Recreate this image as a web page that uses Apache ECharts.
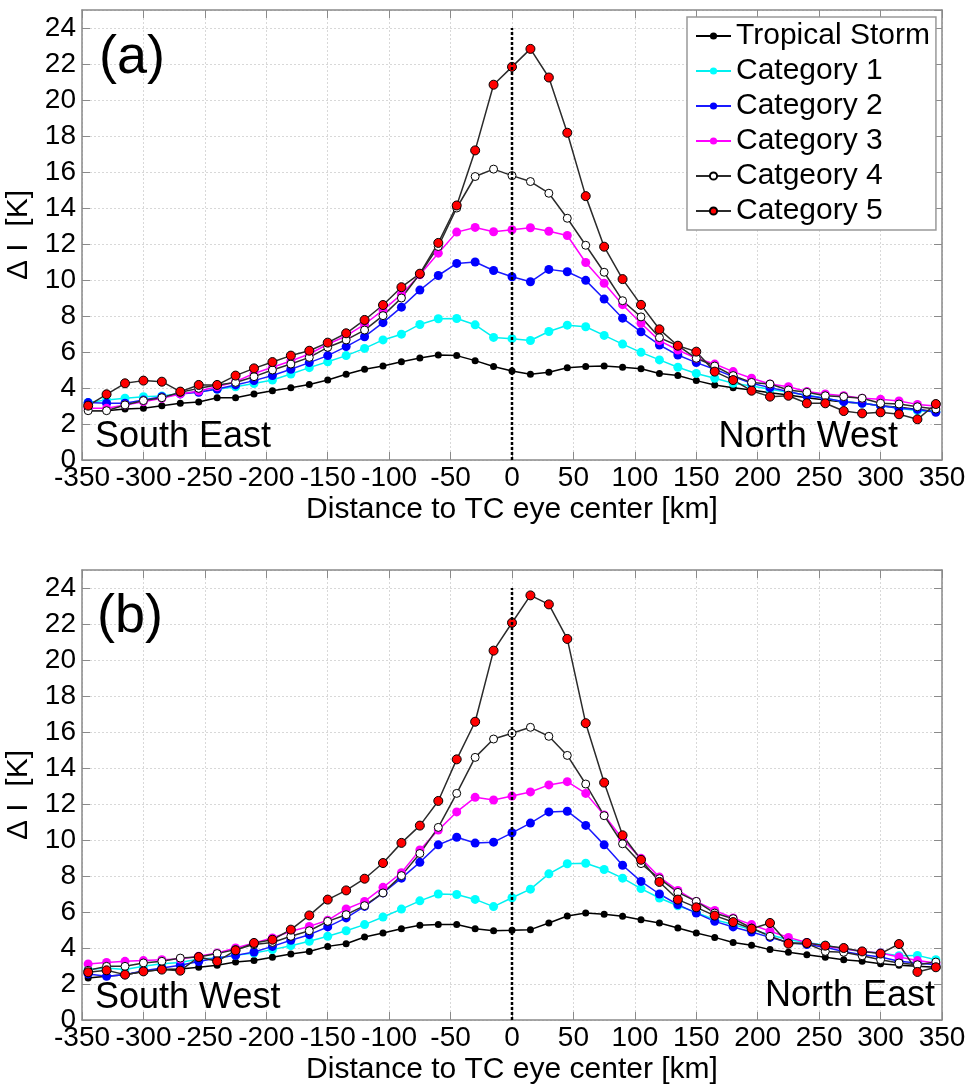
<!DOCTYPE html>
<html>
<head>
<meta charset="utf-8">
<script src="https://cdn.jsdelivr.net/npm/echarts@6/dist/echarts.min.js"></script>
<style>
  html, body { margin: 0; padding: 0; background: #fff; }
  #chart { width: 970px; height: 1086px; }
</style>
</head>
<body>
<div id="chart"></div>
<script>
// Distance to TC eye centre [km], sampled every 15 km
const distance = [];
for (let d = -345; d <= 345; d += 15) distance.push(d);

const seriesNames = ['Tropical Storm', 'Category 1', 'Category 2', 'Category 3', 'Catgeory 4', 'Category 5'];
const xTicks = { min: -350, max: 350, step: 50 };
const yTicks = { min: 0, max: 25, step: 2 };

// Panel (a): South East -> North West transect, ΔI [K]
const aTropicalStorm = [2.74,2.74,2.83,2.87,3.02,3.15,3.22,3.46,3.46,3.67,3.85,4.02,4.2,4.44,4.76,5.04,5.22,5.46,5.67,5.83,5.8,5.52,5.19,4.94,
  4.76,4.87,5.13,5.2,5.22,5.15,5.07,4.81,4.69,4.41,4.17,4.02,3.89,3.74,3.61,3.46,3.33,3.22,3.15,3.02,2.93,2.81,2.69];
const aCat1 = [3.2,3.33,3.43,3.52,3.56,3.7,3.8,3.93,4.07,4.25,4.44,4.78,5.13,5.46,5.8,6.2,6.67,6.99,7.53,7.85,7.86,7.51,6.81,6.74,
  6.64,7.14,7.49,7.4,6.92,6.44,5.98,5.56,5.15,4.81,4.54,4.26,4.11,3.93,3.76,3.61,3.43,3.24,3.15,3.02,2.87,2.74,2.69];
const aCat2 = [3.19,3.15,3.15,3.33,3.52,3.67,3.76,3.94,4.17,4.41,4.69,5.04,5.41,5.8,6.3,6.85,7.63,8.49,9.44,10.25,10.92,11.0,10.53,10.18,
  9.9,10.59,10.46,9.98,8.94,7.88,7.12,6.39,5.83,5.41,5.04,4.63,4.26,4.02,3.8,3.57,3.43,3.24,3.15,3.02,2.87,2.81,2.65];
const aCat3 = [2.87,2.87,3.06,3.24,3.43,3.67,3.83,4.07,4.35,4.81,5.15,5.5,5.89,6.43,6.89,7.54,8.33,9.2,10.29,11.49,12.66,12.92,12.68,12.79,
  12.9,12.71,12.47,10.97,9.82,8.63,7.6,6.63,6.11,5.65,5.33,4.91,4.54,4.22,4.07,3.8,3.67,3.57,3.43,3.37,3.28,3.09,3.0];
const aCat4 = [2.74,2.74,3.06,3.3,3.46,3.76,3.98,4.17,4.31,4.63,5.0,5.33,5.7,6.26,6.67,7.22,8.02,9.0,10.33,11.86,14.0,15.75,16.16,15.8,
  15.47,14.82,13.43,11.93,10.43,8.85,7.95,6.8,6.35,5.65,5.22,4.69,4.31,4.22,3.89,3.76,3.57,3.52,3.43,3.15,3.11,2.96,2.83];
const aCat5 = [3.02,3.65,4.26,4.41,4.35,3.8,4.17,4.17,4.69,5.09,5.44,5.8,6.07,6.52,7.04,7.78,8.61,9.6,10.35,12.06,14.14,17.2,20.85,21.84,
  22.84,21.25,18.18,14.66,11.85,10.05,8.62,7.26,6.35,6.02,4.91,4.44,3.85,3.52,3.57,3.15,3.15,2.72,2.59,2.65,2.54,2.26,3.11];

// Panel (b): South West -> North East transect, ΔI [K]
const bTropicalStorm = [2.33,2.43,2.52,2.7,2.8,2.83,2.93,3.04,3.22,3.31,3.48,3.67,3.81,4.09,4.24,4.61,4.83,5.07,5.26,5.3,5.3,5.07,4.96,4.98,
  5.02,5.39,5.78,5.94,5.87,5.76,5.57,5.39,5.11,4.83,4.59,4.31,4.15,3.91,3.76,3.63,3.48,3.35,3.26,3.13,3.04,2.98,2.93];
const bCat1 = [2.8,2.89,2.8,2.98,3.13,3.2,3.39,3.44,3.59,3.72,3.91,4.13,4.37,4.65,4.96,5.3,5.72,6.16,6.62,7.0,6.97,6.7,6.3,6.79,
  7.27,8.12,8.68,8.71,8.36,7.88,7.3,6.78,6.35,5.98,5.57,5.3,5.02,4.74,4.46,4.31,4.15,3.94,3.81,3.72,3.57,3.59,3.35];
const bCat2 = [2.56,2.43,2.52,2.74,2.89,3.04,3.25,3.44,3.59,3.78,4.09,4.43,4.74,5.17,5.67,6.31,7.06,7.88,8.76,9.73,10.15,9.83,9.88,10.4,
  10.94,11.56,11.6,10.81,9.73,8.6,7.7,7.0,6.41,5.94,5.48,5.17,4.89,4.59,4.31,4.19,4.04,3.81,3.63,3.5,3.26,3.17,3.07];
const bCat3 = [3.11,3.2,3.26,3.3,3.35,3.39,3.54,3.72,4.0,4.28,4.56,4.93,5.2,5.54,6.17,6.59,7.37,8.18,9.45,10.55,11.56,12.37,12.22,12.44,
  12.67,13.06,13.24,12.59,11.39,10.04,8.98,7.94,7.2,6.59,6.09,5.67,5.3,4.93,4.59,4.31,4.09,3.96,3.81,3.72,3.5,3.3,3.17];
const bCat4 = [2.76,2.98,2.98,3.17,3.26,3.44,3.5,3.69,3.91,4.19,4.31,4.65,4.96,5.48,5.85,6.35,7.06,8.02,9.25,10.7,12.59,14.59,15.61,15.93,
  16.26,15.76,14.7,13.11,11.35,9.79,8.69,7.85,7.09,6.59,5.94,5.63,5.11,4.65,4.28,4.24,3.81,3.76,3.57,3.35,3.17,3.07,3.22];
const bCat5 = [2.65,2.76,2.52,2.7,2.8,2.74,3.5,3.26,3.87,4.28,4.46,5.02,5.81,6.69,7.2,7.85,8.72,9.84,10.8,12.17,14.48,16.57,20.52,22.07,
  23.59,23.09,21.17,16.49,13.19,10.26,8.9,7.67,6.69,6.26,5.8,5.44,5.07,5.39,4.24,4.28,4.13,4.0,3.81,3.69,4.22,2.67,2.93];

const panelA = [aTropicalStorm, aCat1, aCat2, aCat3, aCat4, aCat5];
const panelB = [bTropicalStorm, bCat1, bCat2, bCat3, bCat4, bCat5];

const FONT = '"Liberation Sans", Arial, sans-serif';
const BOX = '#8a8a8a';

// Marker / line look per intensity class
const looks = [
  { line: '#000000', fill: '#000000', border: null, size: 7 },
  { line: '#00f0f0', fill: '#00ffff', border: null, size: 9 },
  { line: '#1a1aff', fill: '#0000ff', border: null, size: 9 },
  { line: '#ff00ff', fill: '#ff00ff', border: null, size: 9 },
  { line: '#2b2b2b', fill: '#ffffff', border: '#000000', size: 8 },
  { line: '#2b2b2b', fill: '#ff0000', border: '#000000', size: 9 }
];

function makeSeries(values, gi) {
  return values.map((vals, i) => {
    const lk = looks[i];
    return {
      name: seriesNames[i],
      type: 'line',
      xAxisIndex: gi * 2,
      yAxisIndex: gi * 2,
      data: distance.map((d, k) => [d, vals[k]]),
      symbol: 'circle',
      symbolSize: lk.size,
      showSymbol: true,
      lineStyle: { color: lk.line, width: 1.5 },
      itemStyle: {
        color: lk.fill,
        borderColor: lk.border || lk.fill,
        borderWidth: lk.border ? 1 : 0
      },
      emphasis: { disabled: true },
      animation: false
    };
  });
}

// Dotted vertical line through the eye centre
function centreLine(gi) {
  return {
    name: 'eye',
    type: 'line',
    xAxisIndex: gi * 2,
    yAxisIndex: gi * 2,
    data: [[0, 0], [0, 24]],
    symbol: 'none',
    lineStyle: { color: '#000', width: 2.5, type: [3, 2] },
    z: 5,
    silent: true,
    animation: false
  };
}

function xAxes(gi) {
  return [
    {
      gridIndex: gi, type: 'value', position: 'bottom',
      min: xTicks.min, max: xTicks.max, interval: xTicks.step,
      axisLine: { show: true, onZero: false, lineStyle: { color: BOX, width: 1.5 } },
      axisTick: { show: true, inside: true, length: 8, lineStyle: { color: BOX } },
      axisLabel: { color: '#000', fontSize: 28, fontFamily: FONT, margin: 4 },
      splitLine: { show: true, lineStyle: { color: '#d8d8d8', type: [2, 2], width: 1 } },
      name: 'Distance to TC eye center [km]',
      nameLocation: 'middle', nameGap: 35,
      nameTextStyle: { color: '#000', fontSize: 30, fontFamily: FONT }
    },
    {
      gridIndex: gi, type: 'value', position: 'top',
      min: xTicks.min, max: xTicks.max, interval: xTicks.step,
      axisLine: { show: true, onZero: false, lineStyle: { color: BOX, width: 1.5 } },
      axisTick: { show: true, inside: true, length: 8, lineStyle: { color: BOX } },
      axisLabel: { show: false }, splitLine: { show: false }
    }
  ];
}

function yAxes(gi) {
  return [
    {
      gridIndex: gi, type: 'value', position: 'left',
      min: yTicks.min, max: yTicks.max, interval: yTicks.step,
      axisLine: { show: true, onZero: false, lineStyle: { color: BOX, width: 1.5 } },
      axisTick: { show: true, inside: true, length: 8, lineStyle: { color: BOX } },
      axisLabel: { color: '#000', fontSize: 28, fontFamily: FONT, margin: 6, showMaxLabel: false },
      splitLine: { show: true, lineStyle: { color: '#d8d8d8', type: [2, 2], width: 1 } },
      name: 'Δ I  [K]', nameLocation: 'middle', nameGap: 42, nameRotate: 90,
      nameTextStyle: { color: '#000', fontSize: 30, fontFamily: FONT }
    },
    {
      gridIndex: gi, type: 'value', position: 'right',
      min: yTicks.min, max: yTicks.max, interval: yTicks.step,
      axisLine: { show: true, onZero: false, lineStyle: { color: BOX, width: 1.5 } },
      axisTick: { show: true, inside: true, length: 8, lineStyle: { color: BOX } },
      axisLabel: { show: false }, splitLine: { show: false }
    }
  ];
}

function label(text, x, y, size, align) {
  return {
    type: 'text', x: x, y: y, z: 10,
    style: {
      text: text, fill: '#000', font: size + 'px ' + FONT,
      align: align, verticalAlign: 'middle',
      textAlign: align, textVerticalAlign: 'middle'
    }
  };
}

const chart = echarts.init(document.getElementById('chart'), null, { renderer: 'canvas' });
chart.setOption({
  backgroundColor: '#fff',
  animation: false,
  grid: [
    { left: 82, top: 10, width: 860, height: 450, containLabel: false, outerBoundsMode: 'none' },
    { left: 82, top: 570, width: 860, height: 450, containLabel: false, outerBoundsMode: 'none' }
  ],
  xAxis: xAxes(0).concat(xAxes(1)),
  yAxis: yAxes(0).concat(yAxes(1)),
  legend: {
    data: seriesNames,
    orient: 'vertical',
    left: 687, top: 17,
    padding: [4, 6, 4, 8],
    itemGap: 5,
    itemWidth: 35, itemHeight: 9,
    backgroundColor: '#fff',
    borderColor: '#999', borderWidth: 1.5, borderRadius: 0,
    textStyle: { color: '#000', fontSize: 30, fontFamily: FONT },
    selectedMode: false
  },
  graphic: [
    label('(a)', 99, 58, 54, 'left'),
    label('South East', 95, 437, 36, 'left'),
    label('North West', 898, 437, 36, 'right'),
    label('(b)', 97, 617, 54, 'left'),
    label('South West', 95, 998, 36, 'left'),
    label('North East', 935, 996, 36, 'right')
  ],
  series: makeSeries(panelA, 0).concat([centreLine(0)])
    .concat(makeSeries(panelB, 1)).concat([centreLine(1)])
});
</script>
</body>
</html>
